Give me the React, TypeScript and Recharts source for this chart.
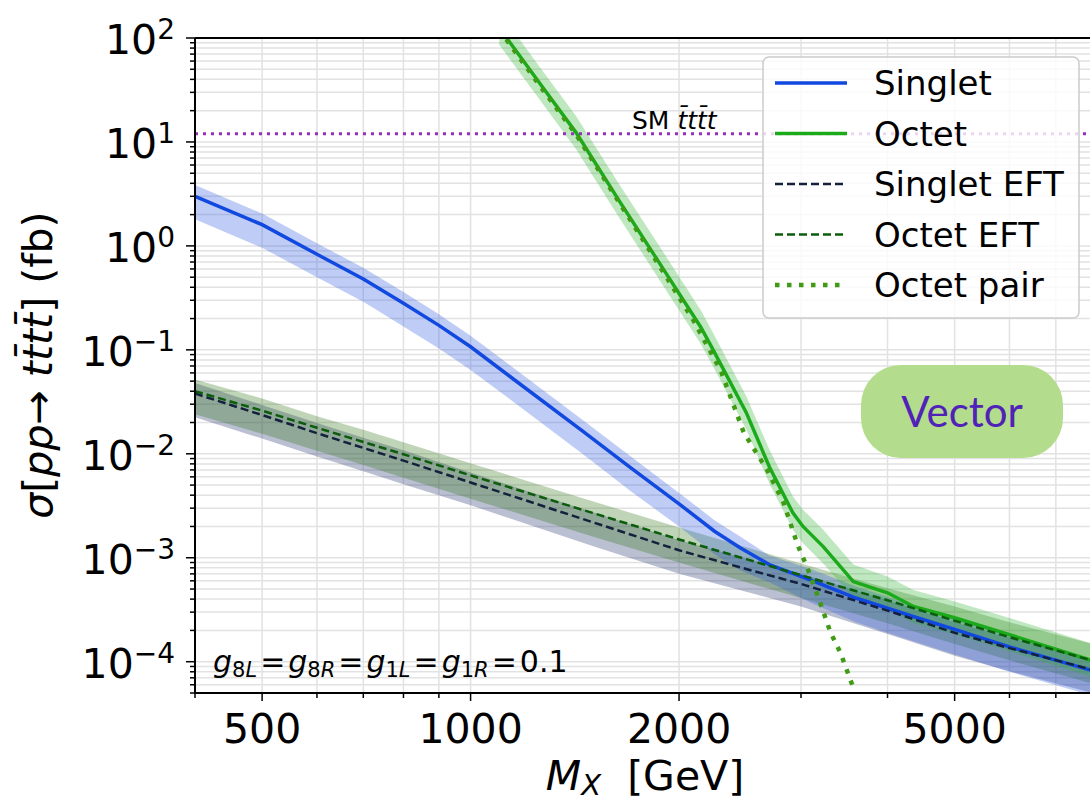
import React from 'react';
import { ComposedChart, Line, Area, XAxis, YAxis, CartesianGrid, ReferenceLine } from 'recharts';

// Singlet (vector colour-singlet), masses in GeV, sigma in fb
const singletMass = [400, 500, 600, 700, 800, 900, 1000, 1150, 1450, 1700, 2000, 2250, 2450, 2700, 3100, 3600, 4300, 5000, 6000, 8000];
const singletXsec = [3.0, 1.6, 0.83, 0.48, 0.28, 0.172, 0.107, 0.053, 0.0166, 0.0074, 0.0033, 0.0018, 0.00125, 0.00086, 0.00061, 0.00041, 0.00028, 0.000205, 0.000139, 0.00008];
const singletHigh = [3.85, 2.05, 1.06, 0.615, 0.36, 0.22, 0.137, 0.068, 0.0213, 0.0095, 0.0042, 0.0023, 0.0016, 0.00105, 0.00078, 0.00053, 0.00036, 0.00026, 0.000178, 0.000103];
const singletLow = [1.8, 0.96, 0.5, 0.29, 0.168, 0.103, 0.064, 0.032, 0.01, 0.0044, 0.002, 0.00108, 0.00076, 0.00058, 0.00037, 0.00024, 0.000162, 0.000117, 0.00008, 0.000046];

// Octet
const octetMass = [1100, 1250, 1420, 1640, 1880, 2150, 2240, 2500, 2700, 2920, 3020, 3230, 3570, 4000, 4360, 5000, 6000, 8000];
const octetXsec = [125, 39, 12.3, 2.7, 0.66, 0.165, 0.1, 0.025, 0.0075, 0.0027, 0.002, 0.00128, 0.00059, 0.00046, 0.00034, 0.000265, 0.000182, 0.0001];
const octetHigh = [180, 56, 17.8, 3.9, 0.96, 0.24, 0.145, 0.036, 0.011, 0.0039, 0.0029, 0.00186, 0.00086, 0.00066, 0.00049, 0.00038, 0.000264, 0.000145];
const octetLow = [86, 27, 8.5, 1.86, 0.455, 0.114, 0.069, 0.0172, 0.0052, 0.00186, 0.00138, 0.00088, 0.00041, 0.00032, 0.000234, 0.000183, 0.000126, 0.000069];

// Octet pair production
const pairMass = [1100, 1250, 1420, 1640, 1880, 2100, 2300, 2480, 2680, 2830, 2970, 3060, 3180, 3310, 3420, 3560];
const pairXsec = [120, 37, 11.8, 2.6, 0.62, 0.19, 0.062, 0.016, 0.007, 0.0034, 0.0013, 0.00082, 0.00041, 0.00019, 0.000122, 0.000059];

// EFT curves
const eftMass = [400, 500, 600, 700, 800, 1000, 1500, 2000, 2500, 3000, 4000, 5000, 6000, 8000];
const octetEftXsec = [0.04, 0.026, 0.0178, 0.013, 0.0099, 0.0062, 0.0027, 0.0015, 0.00097, 0.00068, 0.00039, 0.000248, 0.000172, 0.0001];
const octetEftHigh = [0.052, 0.034, 0.023, 0.017, 0.0129, 0.0081, 0.0035, 0.00195, 0.00126, 0.00088, 0.00051, 0.00034, 0.00024, 0.000145];
const octetEftLow = [0.024, 0.0156, 0.0107, 0.0078, 0.0059, 0.0037, 0.0016, 0.0009, 0.00058, 0.00041, 0.000234, 0.000148, 0.000103, 0.00006];
const singletEftXsec = [0.038, 0.0236, 0.0158, 0.0114, 0.0086, 0.0053, 0.0022, 0.00118, 0.00078, 0.00056, 0.00031, 0.00019, 0.000135, 0.000082];
const singletEftHigh = [0.048, 0.0295, 0.0198, 0.0143, 0.0108, 0.0066, 0.00275, 0.00148, 0.00098, 0.0007, 0.00039, 0.00024, 0.00017, 0.000103];
const singletEftLow = [0.0225, 0.014, 0.0094, 0.0068, 0.0051, 0.0032, 0.0013, 0.0007, 0.00047, 0.00034, 0.000185, 0.000114, 0.000081, 0.000049];

const smTTTT = 12;

// ticks
const xMajorTicks = [500, 1000, 2000, 5000];
const xMinorTicks = [400, 600, 700, 800, 900, 3000, 4000, 6000, 7000];
const yMajorTicks = [1e-4, 1e-3, 1e-2, 1e-1, 1, 10, 100];
const yMajorExp = [-4, -3, -2, -1, 0, 1, 2];
const yMinorMantissa = [2, 3, 4, 5, 6, 7, 8, 9];
const yDecades = [1e-5, 1e-4, 1e-3, 1e-2, 1e-1, 1, 10];

const legendItems = [
  { name: 'Singlet', color: '#1048e0', dash: undefined, width: 3.5 },
  { name: 'Octet', color: '#1aaa1a', dash: undefined, width: 3.5 },
  { name: 'Singlet EFT', color: '#14213d', dash: '8 4', width: 2.5 },
  { name: 'Octet EFT', color: '#0b5c0b', dash: '8 4', width: 2.5 },
  { name: 'Octet pair', color: '#3f9a14', dash: '4.5 7.5', width: 4.5 },
];

const couplings = [['8', 'L'], ['8', 'R'], ['1', 'L'], ['1', 'R']];

const toRows = (mass: number[], y: number[], lo?: number[], hi?: number[]) =>
  mass.map((m, i) => ({ x: m, y: y[i], band: lo && hi ? [lo[i], hi[i]] : undefined }));

const singletData = toRows(singletMass, singletXsec, singletLow, singletHigh);
const octetData = toRows(octetMass, octetXsec, octetLow, octetHigh);
const pairData = toRows(pairMass, pairXsec);
const octetEftData = toRows(eftMass, octetEftXsec, octetEftLow, octetEftHigh);
const singletEftData = toRows(eftMass, singletEftXsec, singletEftLow, singletEftHigh);

const xTicks = [...xMinorTicks, ...xMajorTicks].sort((a, b) => a - b);
const yMinorTicks = yDecades.flatMap(d => yMinorMantissa.map(m => m * d)).filter(v => v >= 5e-5 && v <= 100);
const yTicks = [...yMinorTicks, ...yMajorTicks].sort((a, b) => a - b);

const FONT = 'DejaVu Sans';

const XTick = (props: any) => {
  const { x, y, payload } = props;
  const major = xMajorTicks.includes(payload.value);
  return (
    <g>
      <line x1={x} x2={x} y1={y} y2={y + (major ? 8 : 5)} stroke="#000" strokeWidth={1.5} />
      {major && (
        <text x={x} y={y + 50} textAnchor="middle" fontSize={41} fontFamily={FONT} fill="#000">
          {payload.value}
        </text>
      )}
    </g>
  );
};

const YTick = (props: any) => {
  const { x, y, payload } = props;
  const idx = yMajorTicks.findIndex(v => Math.abs(v - payload.value) / v < 1e-6);
  const major = idx >= 0;
  const e = major ? yMajorExp[idx] : 0;
  return (
    <g>
      <line x1={x - (major ? 9 : 5)} x2={x} y1={y} y2={y} stroke="#000" strokeWidth={1.5} />
      {major && (
        <text x={x - 20} y={y + 16} textAnchor="end" fontSize={41} fontFamily={FONT} fill="#000">
          <tspan>10</tspan>
          <tspan dy={-15} fontSize={28}>{e < 0 ? `\u2212${-e}` : `${e}`}</tspan>
        </text>
      )}
    </g>
  );
};

export default function App() {
  return (
    <div style={{ position: 'absolute', left: 0, top: 0, width: 1090, height: 804, overflow: 'hidden', background: '#fff' }}>
      <ComposedChart width={1100} height={804} margin={{ top: 38, right: 4, bottom: 0, left: 0 }}>
        <CartesianGrid stroke="#e2e2e2" strokeWidth={1.5} />
        <XAxis
          dataKey="x"
          type="number"
          scale="log"
          domain={[400, 8000]}
          ticks={xTicks}
          interval={0}
          allowDataOverflow
          height={111}
          tickSize={0}
          tickMargin={0}
          tick={(p: any) => <XTick {...p} />}
          axisLine={{ stroke: '#000', strokeWidth: 2 }}
        />
        <YAxis
          type="number"
          scale="log"
          domain={[5e-5, 100]}
          ticks={yTicks}
          interval={0}
          allowDataOverflow
          width={195}
          tickSize={0}
          tickMargin={0}
          tick={(p: any) => <YTick {...p} />}
          axisLine={{ stroke: '#000', strokeWidth: 2 }}
        />

        <Area data={singletEftData} dataKey="band" stroke="none" fill="#1a2a6a" fillOpacity={0.3} isAnimationActive={false} />
        <Area data={octetEftData} dataKey="band" stroke="none" fill="#2d7312" fillOpacity={0.3} isAnimationActive={false} />
        <Area data={singletData} dataKey="band" stroke="none" fill="#2a5ae0" fillOpacity={0.3} isAnimationActive={false} />
        <Area data={octetData} dataKey="band" stroke="none" fill="#2db42d" fillOpacity={0.3} isAnimationActive={false} />

        <ReferenceLine y={smTTTT} stroke="#9a2fbf" strokeWidth={3} strokeDasharray="3 5" />

        <Line data={singletData} dataKey="y" stroke="#1048e0" strokeWidth={3.5} dot={false} isAnimationActive={false} />
        <Line data={octetData} dataKey="y" stroke="#1aaa1a" strokeWidth={3.5} dot={false} isAnimationActive={false} />
        <Line data={singletEftData} dataKey="y" stroke="#14213d" strokeWidth={2.5} strokeDasharray="8 4" dot={false} isAnimationActive={false} />
        <Line data={octetEftData} dataKey="y" stroke="#0b5c0b" strokeWidth={2.5} strokeDasharray="8 4" dot={false} isAnimationActive={false} />
        <Line data={pairData} dataKey="y" stroke="#3f9a14" strokeWidth={4.5} strokeDasharray="4.5 7.5" dot={false} isAnimationActive={false} />
      </ComposedChart>

      <svg width={1090} height={804} style={{ position: 'absolute', left: 0, top: 0, pointerEvents: 'none' }} fontFamily={FONT}>
        {/* top spine */}
        <line x1={195} x2={1096} y1={38} y2={38} stroke="#000" strokeWidth={2} />

        {/* y label */}
        <text x={52} y={365} transform="rotate(-90 52 365)" textAnchor="middle" fontSize={41} fill="#000">
          <tspan fontStyle="italic">σ</tspan>[<tspan fontStyle="italic">pp</tspan>→ <tspan fontStyle="italic">tt̄tt̄</tspan>]  (fb)
        </text>

        {/* x label */}
        <text x={645} y={790} textAnchor="middle" fontSize={41} fill="#000" style={{ whiteSpace: 'pre' }}>
          <tspan fontStyle="italic">M</tspan>
          <tspan fontStyle="italic" fontSize={29} dy={5}>X</tspan>
          <tspan dy={-5}>{'  [GeV]'}</tspan>
        </text>

        {/* SM label */}
        <text x={632} y={129} fontSize={25} fill="#000">
          SM <tspan fontStyle="italic">t̄tt̄t</tspan>
        </text>

        {/* coupling annotation */}
        <text x={213} y={672} fontSize={30} fill="#000">
          {couplings.map(([n, h], i) => (
            <React.Fragment key={i}>
              <tspan fontStyle="italic" dx={i === 0 ? 0 : 3}>g</tspan>
              <tspan fontSize={21} dy={5}>{n}</tspan>
              <tspan fontSize={21} fontStyle="italic">{h}</tspan>
              <tspan dy={-5} dx={3}>=</tspan>
            </React.Fragment>
          ))}
          <tspan dx={3}>0.1</tspan>
        </text>

        {/* Vector badge */}
        <rect x={861} y={365} width={202} height={93} rx={40} fill="#b3dc8c" />
        <text x={962} y={427} textAnchor="middle" fontSize={42} fontFamily="Lato" fill="#5022b8">Vector</text>

        {/* legend */}
        <rect x={763} y={57} width={316} height={261} rx={6} fill="#fff" fillOpacity={0.8} stroke="#cccccc" strokeWidth={1.5} />
        {legendItems.map((it, i) => {
          const ly = 83 + i * 50.5;
          return (
            <g key={it.name}>
              <line x1={775} x2={847} y1={ly} y2={ly} stroke={it.color} strokeWidth={it.width} strokeDasharray={it.dash} />
              <text x={874} y={ly + 12} fontSize={34} fill="#000">{it.name}</text>
            </g>
          );
        })}
      </svg>
    </div>
  );
}
